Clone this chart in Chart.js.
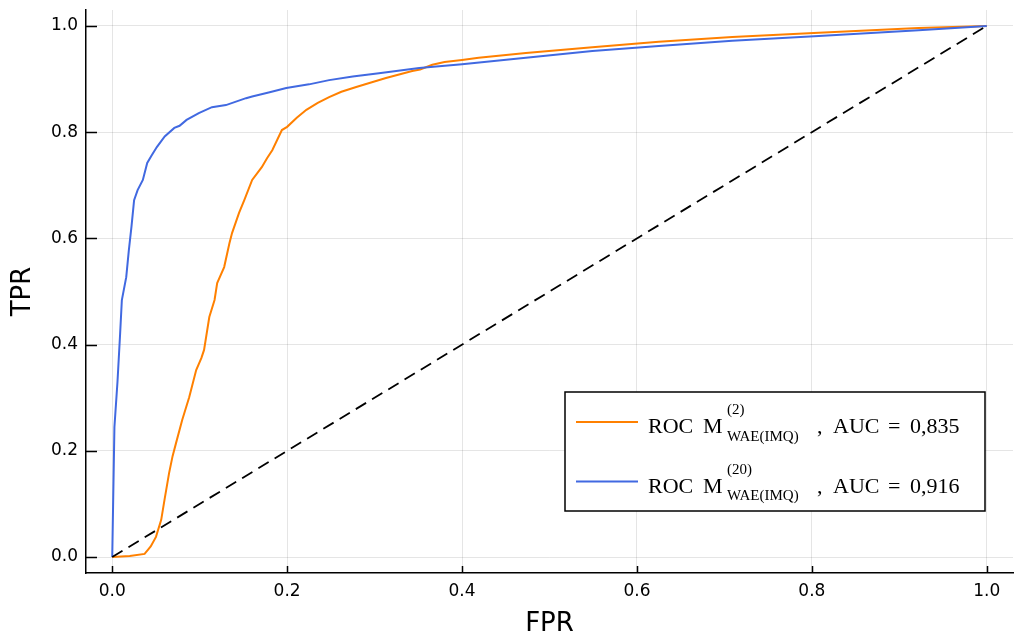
<!DOCTYPE html>
<html>
<head>
<meta charset="utf-8">
<script src="https://cdn.jsdelivr.net/npm/chart.js@4/dist/chart.umd.min.js"></script>
<style>
  body { margin: 0; background: #fff; }
  canvas { display: block; }
</style>
</head>
<body>
<canvas id="roc" width="1014" height="637"></canvas>
<script>
"use strict";

// ROC M(2), AUC 0,835
const fpr2 = [0, 0.02, 0.037, 0.044, 0.050, 0.056, 0.060, 0.065, 0.069, 0.073, 0.080, 0.088, 0.096, 0.102, 0.105,
    0.111, 0.117, 0.120, 0.128, 0.134, 0.137, 0.145, 0.151, 0.160, 0.171, 0.177, 0.183, 0.194, 0.200, 0.211,
    0.222, 0.235, 0.248, 0.262, 0.279, 0.295, 0.313, 0.343, 0.352, 0.366, 0.380, 0.400, 0.419, 0.473, 0.549,
    0.625, 0.709, 0.808, 0.922, 1];
const tpr2 = [0, 0.002, 0.006, 0.02, 0.038, 0.07, 0.11, 0.158, 0.19, 0.215, 0.258, 0.301, 0.352, 0.375, 0.39,
    0.452, 0.484, 0.516, 0.546, 0.591, 0.610, 0.648, 0.672, 0.710, 0.734, 0.751, 0.766, 0.804, 0.810, 0.827,
    0.842, 0.855, 0.866, 0.876, 0.885, 0.893, 0.902, 0.915, 0.918, 0.927, 0.932, 0.936, 0.940, 0.949, 0.960,
    0.970, 0.979, 0.987, 0.996, 1];

// ROC M(20), AUC 0,916
const fpr20 = [0, 0.001, 0.0025, 0.006, 0.009, 0.011, 0.016, 0.019, 0.022, 0.025, 0.029, 0.035,
    0.040, 0.045, 0.051, 0.060, 0.071, 0.077, 0.085, 0.099, 0.114, 0.130, 0.153, 0.160, 0.180, 0.199, 0.225,
    0.248, 0.275, 0.305, 0.351, 0.400, 0.473, 0.549, 0.625, 0.709, 0.808, 0.922, 1];
const tpr20 = [0, 0.10, 0.245, 0.33, 0.42, 0.484, 0.527, 0.578, 0.622, 0.672, 0.691, 0.710,
    0.742, 0.756, 0.772, 0.792, 0.808, 0.812, 0.823, 0.836, 0.847, 0.851, 0.864, 0.867, 0.875, 0.883, 0.890,
    0.898, 0.905, 0.911, 0.921, 0.928, 0.940, 0.953, 0.962, 0.972, 0.981, 0.992, 1];

// chance line
const diagX = [0, 1];
const diagY = [0, 1];

const tickValues = [0, 0.2, 0.4, 0.6, 0.8, 1.0];

// legend: [superscript, subscript, AUC]
const legendRows = [
    ["(2)", "WAE(IMQ)", "0,835"],
    ["(20)", "WAE(IMQ)", "0,916"]
];

const orange = "rgb(255,128,0)";
const blue = "rgb(65,105,225)";

function toPoints(xs, ys) {
    return xs.map((x, i) => ({ x: x, y: ys[i] }));
}

// ticks inside the frame, like in the original
const innerTicks = {
    id: "innerTicks",
    afterDatasetsDraw(chart) {
        const { ctx, chartArea, scales } = chart;
        ctx.save();
        ctx.strokeStyle = "#000";
        ctx.lineWidth = 1.5;
        ctx.beginPath();
        scales.x.ticks.forEach(t => {
            const px = Math.round(scales.x.getPixelForValue(t.value)) + 0.5;
            ctx.moveTo(px, chartArea.bottom);
            ctx.lineTo(px, chartArea.bottom - 7);
        });
        scales.y.ticks.forEach(t => {
            const py = Math.round(scales.y.getPixelForValue(t.value)) + 0.5;
            ctx.moveTo(chartArea.left, py);
            ctx.lineTo(chartArea.left + 11, py);
        });
        ctx.stroke();
        ctx.restore();
    }
};

// legend box with the math labels
const mathLegend = {
    id: "mathLegend",
    afterDraw(chart) {
        const { ctx, chartArea } = chart;
        const boxW = 420, boxH = 119;
        const left = chartArea.right - 28 - boxW;
        const top = chartArea.bottom - 62 - boxH;
        ctx.save();
        ctx.fillStyle = "#fff";
        ctx.fillRect(left, top, boxW, boxH);
        ctx.strokeStyle = "#000";
        ctx.lineWidth = 1.5;
        ctx.strokeRect(left, top, boxW, boxH);

        const colors = [orange, blue];
        const serif = "'Liberation Serif', 'DejaVu Serif', serif";
        legendRows.forEach((row, i) => {
            const lineY = top + 30 + i * 59.5;
            const base = lineY + 11;
            ctx.strokeStyle = colors[i];
            ctx.lineWidth = 2;
            ctx.beginPath();
            ctx.moveTo(left + 11, lineY);
            ctx.lineTo(left + 73, lineY);
            ctx.stroke();

            const tx = left + 83;
            ctx.fillStyle = "#000";
            ctx.textBaseline = "alphabetic";
            ctx.textAlign = "left";
            ctx.font = "22px " + serif;
            ctx.fillText("ROC", tx, base);
            ctx.fillText("M", tx + 55, base);
            ctx.fillText(",", tx + 169, base);
            ctx.fillText("AUC", tx + 185, base);
            ctx.fillText("=", tx + 240, base);
            ctx.fillText(row[2], tx + 262, base);
            ctx.font = "15px " + serif;
            ctx.fillText(row[0], tx + 79, base - 19);
            ctx.fillText(row[1], tx + 79, base + 7.5);
        });
        ctx.restore();
    }
};

const tickFont = { family: "'DejaVu Sans', sans-serif", size: 17 };
const titleFont = { family: "'DejaVu Sans', sans-serif", size: 26, lineHeight: 1.0 };

new Chart(document.getElementById("roc"), {
    type: "scatter",
    data: {
        datasets: [
            {
                data: toPoints(diagX, diagY),
                showLine: true,
                borderColor: "#000",
                borderWidth: 1.8,
                borderDash: [12, 7],
                pointRadius: 0
            },
            {
                data: toPoints(fpr20, tpr20),
                showLine: true,
                borderColor: blue,
                borderWidth: 2,
                pointRadius: 0,
                tension: 0
            },
            {
                data: toPoints(fpr2, tpr2),
                showLine: true,
                borderColor: orange,
                borderWidth: 2,
                pointRadius: 0,
                tension: 0
            }
        ]
    },
    options: {
        responsive: false,
        animation: false,
        layout: { padding: { top: 10, right: 1, left: 0, bottom: 0 } },
        plugins: { legend: { display: false }, tooltip: { enabled: false } },
        scales: {
            x: {
                type: "linear",
                min: -0.03,
                max: 1.03,
                afterBuildTicks: s => { s.ticks = tickValues.map(v => ({ value: v })); },
                afterFit: s => { s.height = 64; s.paddingLeft = 0; s.paddingRight = 0; },
                ticks: {
                    font: tickFont,
                    color: "#000",
                    padding: 8,
                    maxRotation: 0,
                    callback: v => v.toFixed(1)
                },
                grid: { color: "rgba(0,0,0,0.1)", drawTicks: false },
                border: { color: "#000", width: 1.5 },
                title: { display: true, text: "FPR", font: titleFont, color: "#000", padding: { top: 0, bottom: 0 } }
            },
            y: {
                type: "linear",
                min: -0.03,
                max: 1.03,
                afterBuildTicks: s => { s.ticks = tickValues.map(v => ({ value: v })); },
                afterFit: s => { s.width = 86; s.paddingTop = 0; s.paddingBottom = 0; },
                ticks: {
                    font: tickFont,
                    color: "#000",
                    padding: 8,
                    callback: v => v.toFixed(1)
                },
                grid: { color: "rgba(0,0,0,0.1)", drawTicks: false },
                border: { color: "#000", width: 1.5 },
                title: { display: true, text: "TPR", font: titleFont, color: "#000", padding: { top: 10, bottom: 0 } }
            }
        }
    },
    plugins: [innerTicks, mathLegend]
});
</script>
</body>
</html>
